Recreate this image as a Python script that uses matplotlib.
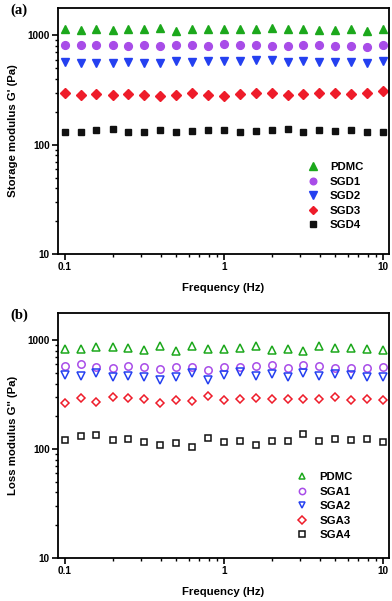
import numpy as np
import matplotlib
matplotlib.use("Agg")
import matplotlib.pyplot as plt
from matplotlib.ticker import LogLocator, FixedLocator, FixedFormatter, NullFormatter

plt.rcParams['font.family'] = ['Liberation Sans', 'DejaVu Sans']
plt.rcParams['font.weight'] = 'bold'

freq = [0.1, 0.126, 0.158, 0.2, 0.251, 0.316, 0.398, 0.501, 0.631, 0.794,
        1.0, 1.26, 1.58, 2.0, 2.51, 3.16, 3.98, 5.01, 6.31, 7.94, 10.0]

# Panel (a): storage modulus G'
g1_labels = ["PDMC", "SGD1", "SGD2", "SGD3", "SGD4"]
g1_pdmc = [1142, 1126, 1142, 1126, 1134, 1142, 1166, 1103, 1134, 1142, 1142,
           1142, 1134, 1158, 1134, 1142, 1126, 1126, 1150, 1103, 1134]
g1_sgd1 = [816, 811, 811, 811, 805, 811, 805, 816, 816, 805, 834,
           822, 822, 799, 799, 811, 811, 805, 799, 783, 811]
g1_sgd2 = [575, 560, 563, 563, 571, 563, 556, 579, 567, 579, 583,
           579, 596, 592, 575, 583, 571, 575, 571, 563, 588]
g1_sgd3 = [300, 284, 290, 286, 288, 286, 278, 286, 298, 282, 280,
           290, 294, 294, 286, 288, 300, 294, 288, 296, 309]
g1_sgd4 = [131, 132, 136, 139, 131, 130, 135, 131, 133, 136, 136,
           132, 133, 136, 138, 131, 137, 134, 137, 131, 130]

# Panel (b): loss modulus G''
g2_labels = ["PDMC", "SGA1", "SGA2", "SGA3", "SGA4"]
g2_pdmc = [839, 827, 869, 863, 845, 821, 881, 798, 881, 839, 833,
           857, 887, 821, 827, 793, 881, 857, 845, 833, 810]
g2_sga1 = [577, 606, 569, 553, 586, 566, 542, 573, 573, 534, 569,
           569, 586, 594, 557, 590, 586, 561, 553, 553, 566]
g2_sga2 = [477, 471, 498, 461, 471, 461, 433, 464, 505, 436, 477,
           509, 471, 494, 464, 502, 471, 488, 481, 464, 458]
g2_sga3 = [265, 293, 270, 300, 293, 288, 265, 282, 276, 309, 282,
           286, 298, 288, 288, 291, 288, 302, 280, 288, 284]
g2_sga4 = [121, 131, 135, 121, 124, 117, 108, 113, 105, 127, 116,
           120, 108, 119, 120, 139, 119, 124, 122, 123, 116]

colors = ["#1ca81c", "#a84ce8", "#2440f0", "#ee1c2a", "#111111"]
markers = ["^", "o", "v", "D", "s"]
msizes = [6.0, 5.6, 6.0, 4.6, 4.6]

xticks = [0.1, 1, 10]
xticklabels = ["0.1", "1", "10"]
yticks = [10, 100, 1000]
yticklabels = ["10", "100", "1000"]

fig = plt.figure(figsize=(3.92, 6.01), dpi=100)
W, H = 392, 601

def make_axes(top_px, bottom_px):
    left, right = 58, 389
    return fig.add_axes([left / W, 1 - bottom_px / H, (right - left) / W, (bottom_px - top_px) / H])

ax1 = make_axes(8, 254)
ax2 = make_axes(313, 558)

def style(ax, ylabel, panel, series, labels, filled):
    for i, (y, lab) in enumerate(zip(series, labels)):
        if filled:
            ax.plot(freq, y, linestyle='none', marker=markers[i], ms=msizes[i],
                    color=colors[i], mec=colors[i], label=lab)
        else:
            ax.plot(freq, y, linestyle='none', marker=markers[i], ms=msizes[i] * 0.95,
                    mfc='none', mec=colors[i], mew=1.1, label=lab)
    ax.set_xscale('log')
    ax.set_yscale('log')
    ax.set_xlim(0.0905, 10.9)
    ax.set_ylim(10, 1780)
    ax.xaxis.set_major_locator(FixedLocator(xticks))
    ax.xaxis.set_major_formatter(FixedFormatter(xticklabels))
    ax.yaxis.set_major_locator(FixedLocator(yticks))
    ax.yaxis.set_major_formatter(FixedFormatter(yticklabels))
    ax.xaxis.set_minor_locator(LogLocator(base=10, subs=np.arange(2, 10)))
    ax.yaxis.set_minor_locator(LogLocator(base=10, subs=np.arange(2, 10)))
    ax.xaxis.set_minor_formatter(NullFormatter())
    ax.yaxis.set_minor_formatter(NullFormatter())
    ax.tick_params(which='major', direction='out', length=4, width=1.2, labelsize=7.2, pad=2)
    ax.tick_params(which='minor', direction='out', length=2.3, width=1.0)
    for lbl in ax.get_xticklabels() + ax.get_yticklabels():
        lbl.set_fontweight('bold')
    for s in ax.spines.values():
        s.set_linewidth(1.3)
    ax.set_xlabel("Frequency (Hz)", fontsize=8.2, fontweight='bold', labelpad=8)
    ax.set_ylabel(ylabel, fontsize=8.2, fontweight='bold', labelpad=7)
    ax.text(-0.143, 1 - 2.5 / 246, panel, transform=ax.transAxes, fontsize=10.5,
            fontweight='bold', family=['Liberation Serif'], va='center', ha='left')

style(ax1, "Storage modulus G' (Pa)", "(a)",
      [g1_pdmc, g1_sgd1, g1_sgd2, g1_sgd3, g1_sgd4], g1_labels, True)
style(ax2, "Loss modulus G'' (Pa)", "(b)",
      [g2_pdmc, g2_sga1, g2_sga2, g2_sga3, g2_sga4], g2_labels, False)

leg_kw = dict(loc='lower left', frameon=False, prop={'weight': 'bold', 'size': 8.2},
              handletextpad=0.9, labelspacing=0.40, handlelength=1.2,
              borderaxespad=0, borderpad=0, markerscale=0.85)
ax1.legend(bbox_to_anchor=(0.749, 0.096), **leg_kw)
ax2.legend(bbox_to_anchor=(0.7175, 0.0725), **leg_kw)

fig.savefig("out.png", dpi=100)
